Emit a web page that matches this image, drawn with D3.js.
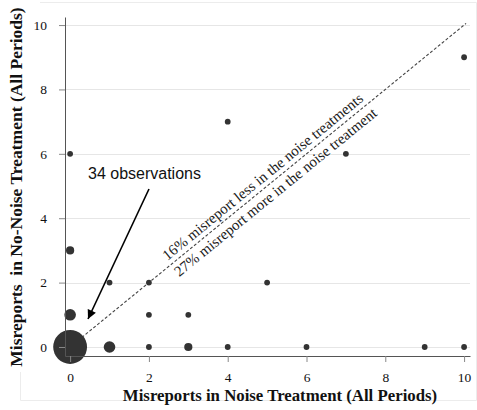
<!DOCTYPE html>
<html>
<head>
<meta charset="utf-8">
<script src="https://cdn.jsdelivr.net/npm/d3@7"></script>
<style>
  body { margin: 0; background: #fff; }
  svg { display: block; }
</style>
</head>
<body>
<script>
// misreports per subject: noise treatment (x) vs no-noise treatment (y), n = number of subjects
const noiseX   = [0, 1, 0, 0, 0, 1, 2, 2, 2, 3, 3, 4, 4, 5, 6, 7, 9, 10, 10];
const noNoiseY = [0, 0, 1, 3, 6, 2, 2, 1, 0, 1, 0, 0, 7, 2, 0, 6, 0, 0, 9];
const counts   = [34, 4, 4, 2, 1, 1, 1, 1, 1, 1, 2, 1, 1, 1, 1, 1, 1, 1, 1];
const tickVals = [0, 2, 4, 6, 8, 10];

const data = noiseX.map((d, i) => ({x: d, y: noNoiseY[i], n: counts[i]}));

const width = 477, height = 410;
const serif = "'Liberation Serif', 'Times New Roman', serif";

const svg = d3.select("body").append("svg")
    .attr("width", width)
    .attr("height", height);

// faint outer frame
svg.append("path")
    .attr("d", "M20.5,372 V400.5 H476.5 V2.5 H40")
    .attr("fill", "none")
    .attr("stroke", "#ececec");

const x = d3.scaleLinear().domain([-0.13, 10.15]).range([65, 470]);
const y = d3.scaleLinear().domain([-0.28, 10.25]).range([356, 17]);
const r = d3.scaleSqrt().domain([0, 1]).range([0, 2.9]);

// gridlines
svg.append("g")
    .selectAll("line")
    .data(tickVals)
    .enter()
    .append("line")
    .attr("x1", x.range()[0])
    .attr("x2", x.range()[1])
    .attr("y1", d => Math.round(y(d)) + 0.5)
    .attr("y2", d => Math.round(y(d)) + 0.5)
    .attr("stroke", "#e6e6e6");

// diagonal
svg.append("line")
    .attr("x1", x(0)).attr("y1", y(0))
    .attr("x2", x(10.05)).attr("y2", y(10.05))
    .attr("stroke", "#444")
    .attr("stroke-width", 1.1)
    .attr("stroke-dasharray", "3,2");

// bubbles
svg.append("g")
    .selectAll("circle")
    .data(data)
    .enter()
    .append("circle")
    .attr("cx", d => x(d.x))
    .attr("cy", d => y(d.y))
    .attr("r", d => r(d.n))
    .attr("fill", "#333");

// axes
const xAxis = svg.append("g")
    .attr("transform", "translate(0," + y.range()[0] + ")")
    .call(d3.axisBottom(x).tickValues(tickVals).tickSize(6).tickSizeOuter(0).tickPadding(10));
const yAxis = svg.append("g")
    .attr("transform", "translate(" + x.range()[0] + ",0)")
    .call(d3.axisLeft(y).tickValues(tickVals).tickSize(6).tickSizeOuter(0).tickPadding(12));

[xAxis, yAxis].forEach(a => {
    a.select(".domain").attr("stroke", "#555");
    a.selectAll(".tick line").attr("stroke", "#888");
    a.selectAll(".tick text")
        .attr("fill", "#111")
        .style("font-family", serif)
        .style("font-size", "13.5px");
});

// diagonal labels
const angle = -Math.atan2(y(0) - y(10), x(10) - x(0)) * 180 / Math.PI;
const lab = svg.append("g")
    .attr("transform", "translate(" + x(5.05) + "," + y(5.05) + ") rotate(" + angle + ")")
    .style("font-family", serif)
    .style("font-size", "15px")
    .attr("fill", "#1a1a1a")
    .attr("text-anchor", "middle");
lab.append("text").attr("y", -5).text("16% misreport less in the noise treatments");
lab.append("text").attr("y", 15).text("27% misreport more in the noise treatment");

// annotation
svg.append("text")
    .attr("x", 88)
    .attr("y", 179)
    .style("font-family", "'Liberation Sans', Arial, sans-serif")
    .style("font-size", "16px")
    .attr("fill", "#111")
    .text("34 observations");

svg.append("defs").append("marker")
    .attr("id", "head")
    .attr("viewBox", "0 0 10 10")
    .attr("refX", 10).attr("refY", 5)
    .attr("markerWidth", 10).attr("markerHeight", 9)
    .attr("markerUnits", "userSpaceOnUse")
    .attr("orient", "auto")
    .append("path")
    .attr("d", "M0,0 L10,5 L0,10 Z")
    .attr("fill", "#000");

svg.append("line")
    .attr("x1", 149).attr("y1", 189)
    .attr("x2", 88).attr("y2", 319)
    .attr("stroke", "#000")
    .attr("stroke-width", 1.6)
    .attr("marker-end", "url(#head)");

// axis titles
svg.append("text")
    .attr("x", 280)
    .attr("y", 401)
    .attr("text-anchor", "middle")
    .style("font-family", serif)
    .style("font-size", "16.8px")
    .style("font-weight", "bold")
    .attr("fill", "#111")
    .text("Misreports in Noise Treatment (All Periods)");

svg.append("text")
    .attr("transform", "translate(22,187) rotate(-90)")
    .attr("text-anchor", "middle")
    .style("font-family", serif)
    .style("font-size", "17.5px")
    .style("font-weight", "bold")
    .style("white-space", "pre")
    .attr("fill", "#111")
    .text("Misreports  in No-Noise Treatment (All Periods)");
</script>
</body>
</html>
